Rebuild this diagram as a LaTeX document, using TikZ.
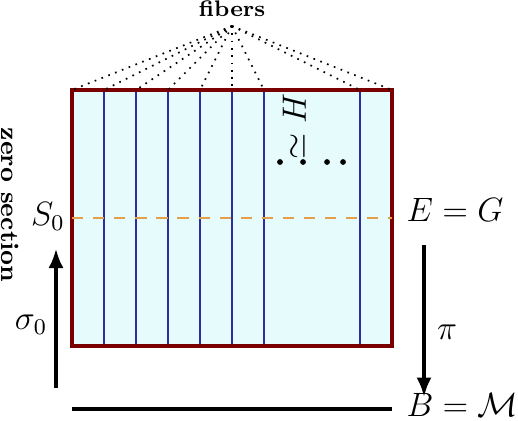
\documentclass[tikz,border=0pt]{standalone}
\usepackage{amssymb}
\usepackage{amsmath}
\usepackage{xcolor}
\usepackage{tikz}
\usetikzlibrary{positioning,arrows.meta}
\definecolor{framered}{HTML}{7A0000}
\definecolor{fibblue}{HTML}{2E2EA0}
\definecolor{fillcyan}{HTML}{E6FCFC}
\definecolor{secorange}{HTML}{E3A048}
\tikzset{
    fiber/.style={draw=fibblue, line width=0.8pt},
    frame/.style={draw=framered, fill=fillcyan, line width=1.3pt},
    proj/.style={line width=1.4pt, -{Latex[length=7pt,width=5.4pt]}},
    label text/.style={font=\large, inner sep=1pt}
}
\begin{document}
\begin{tikzpicture}[x=0.4cm, y=0.4cm]
    \useasboundingbox (-2.25,-2.3125) rectangle (13.9375,10.8125);
    \filldraw[frame] (0,0) rectangle (10,8);
    \foreach \i in {1,...,6,9}
        \draw[fiber] (\i,0) -- (\i,8);
    \draw[frame, fill=none] (0,0) rectangle (10,8);
    \draw[secorange, dashed, dash pattern=on 4pt off 3.5pt, line width=0.7pt] (0,4) -- (10,4);

    % fibers over the total space
    \node[font=\footnotesize\bfseries] (fib) at (5,10.55) {fibers};
    \coordinate (apex) at (5,10);
    \foreach \i in {0,...,6,9,10}
        \draw[dotted, line width=0.6pt] (apex) -- (\i,8);

    \node[rotate=90, inner sep=0pt, font=\large] (h) at (6.95,6.85) {$\simeq H$};
    \foreach \x in {6.5,7.22,7.97,8.47}
        \fill (\x,5.75) circle (0.09);

    \node[label text] (s0) at (-0.75,4.05) {$S_0$};
    \node[font=\small\bfseries, rotate=-90] (zs) at (-1.95,4.4) {zero section};
    \coordinate (up0) at (-0.5,-1.3);
    \coordinate (up1) at (-0.5,3.05);
    \draw[proj] (up0) -- (up1);
    \node[label text] (sig) at (-1.28,0.66) {$\sigma_0$};

    \node[label text] (e) at (11.97,4.25) {$E = G$};
    \coordinate (dn0) at (11,3.15);
    \coordinate (dn1) at (11,-1.6);
    \draw[proj] (dn0) -- (dn1);
    \node[label text] (pi) at (11.72,0.44) {$\pi$};
    \node[label text] (b) at (12.2,-1.84) {$B = \mathcal{M}$};

    \coordinate (b0) at (0,-1.97);
    \coordinate (b1) at (10,-1.97);
    \draw[line width=1.3pt] (b0) -- (b1);
\end{tikzpicture}
\end{document}
